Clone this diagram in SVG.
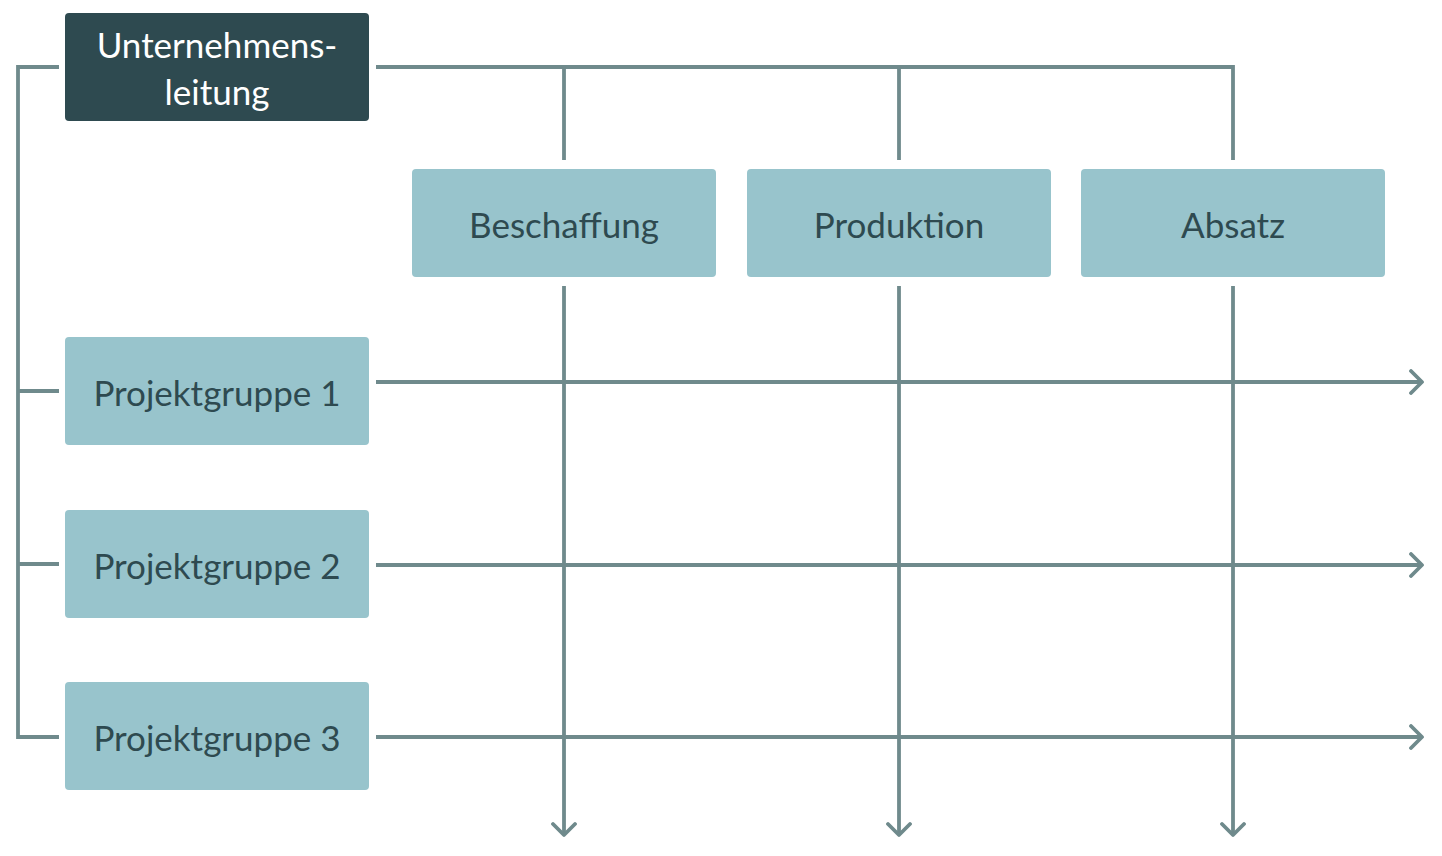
<svg xmlns="http://www.w3.org/2000/svg" width="1442" height="856" viewBox="0 0 1442 856">
<style>
.line{fill:none;stroke:#6f8a8c;stroke-width:3.8}
.dark{fill:#2e4a50}
.light{fill:#98c4cc}
.tl{font-family:Lato,"Open Sans",sans-serif;font-size:35px;fill:#2e4a50;text-anchor:middle}
.tw{font-family:Lato,"Open Sans",sans-serif;font-size:35px;fill:#ffffff;text-anchor:middle}
</style>
<defs>
<marker id="arr" viewBox="0 0 22 26" refX="19" refY="13" markerWidth="22" markerHeight="26" markerUnits="userSpaceOnUse" orient="auto">
<path d="M8,2 L19,13 L8,24" fill="none" stroke="#6f8a8c" stroke-width="3.8" stroke-linecap="round" stroke-linejoin="round"/>
</marker>
</defs>
<g id="connectors">
<path class="line" d="M376,67 H1233 V160"/>
<path class="line" d="M564,67 V160"/>
<path class="line" d="M899,67 V160"/>
<path class="line" d="M59,67 H18 V737 H59"/>
<path class="line" d="M18,391 H59"/>
<path class="line" d="M18,564 H59"/>
<path class="line" d="M564,286 V835" marker-end="url(#arr)"/>
<path class="line" d="M899,286 V835" marker-end="url(#arr)"/>
<path class="line" d="M1233,286 V835" marker-end="url(#arr)"/>
<path class="line" d="M376,382 H1422" marker-end="url(#arr)"/>
<path class="line" d="M376,565 H1422" marker-end="url(#arr)"/>
<path class="line" d="M376,737 H1422" marker-end="url(#arr)"/>
</g>
<g id="unternehmensleitung">
<rect class="dark" x="65" y="13" width="304" height="108" rx="4"/>
<text class="tw" x="217" y="58">Unternehmens-</text>
<text class="tw" x="217" y="105">leitung</text>
</g>
<g id="beschaffung">
<rect class="light" x="412" y="169" width="304" height="108" rx="4"/>
<text class="tl" x="564" y="238">Beschaffung</text>
</g>
<g id="produktion">
<rect class="light" x="747" y="169" width="304" height="108" rx="4"/>
<text class="tl" x="899" y="238">Produktion</text>
</g>
<g id="absatz">
<rect class="light" x="1081" y="169" width="304" height="108" rx="4"/>
<text class="tl" x="1233" y="238">Absatz</text>
</g>
<g id="projektgruppe1">
<rect class="light" x="65" y="337" width="304" height="108" rx="4"/>
<text class="tl" x="217" y="406">Projektgruppe 1</text>
</g>
<g id="projektgruppe2">
<rect class="light" x="65" y="510" width="304" height="108" rx="4"/>
<text class="tl" x="217" y="579">Projektgruppe 2</text>
</g>
<g id="projektgruppe3">
<rect class="light" x="65" y="682" width="304" height="108" rx="4"/>
<text class="tl" x="217" y="751">Projektgruppe 3</text>
</g>
</svg>
